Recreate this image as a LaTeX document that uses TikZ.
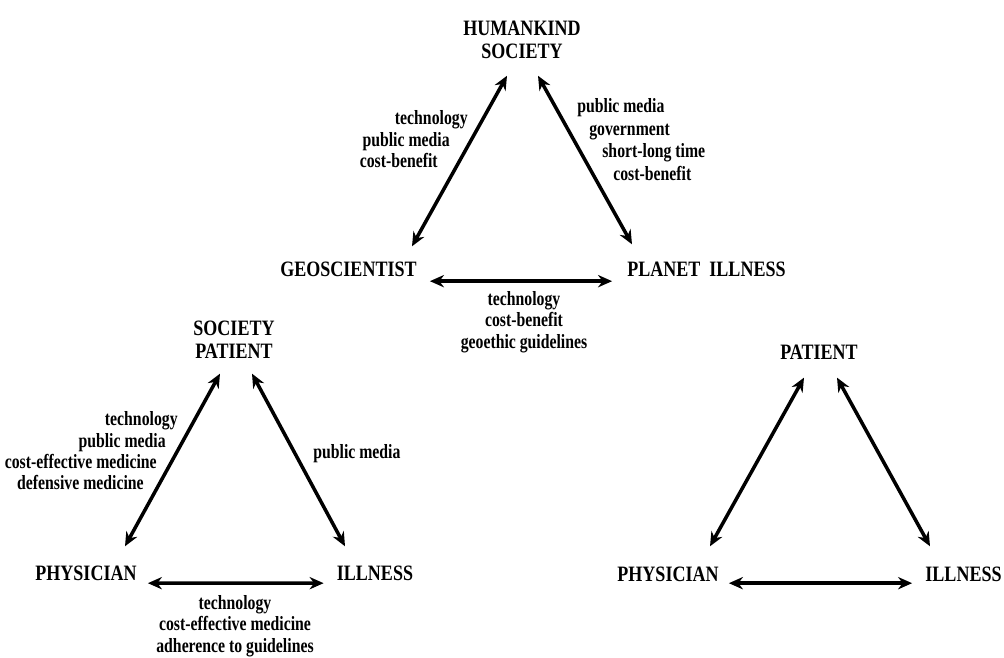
\documentclass[tikz,border=0pt]{standalone}
\usepackage{fontspec}
\setmainfont{Liberation Serif}
\newfontfamily\actorfam[FakeStretch=0.82]{Liberation Serif}
\newfontfamily\lblfam[FakeStretch=0.78]{Liberation Serif}
\usepackage{tikz}
\usetikzlibrary{arrows.meta}

\newcommand{\actorfont}{\actorfam\fontsize{12.5}{13}\selectfont\bfseries}
\newcommand{\lblfont}{\lblfam\fontsize{11.5}{12.4}\selectfont\bfseries}

\begin{document}
\begin{tikzpicture}[
    x=0.02cm, y=-0.02cm,
    actor/.style={font=\actorfont, inner sep=0pt, align=center},
    lbl/.style={font=\lblfont, inner sep=0pt, align=center},
    arr/.style={{Stealth[length=8pt,width=7pt]}-{Stealth[length=8pt,width=7pt]}, line width=2pt},
]
\useasboundingbox (0,0) rectangle (1004,657);
% Top triangle
\node[actor] (hk)  at (522,40)      {HUMANKIND\\SOCIETY};
\node[actor] (geo) at (348.5,269.5) {GEOSCIENTIST};
\node[actor] (pl)  at (706.5,269.5) {PLANET\ \ ILLNESS};
\draw[arr] ([shift={(-15,16.6)}]hk.south) -- ([shift={(63.5,-15.5)}]geo.north);
\draw[arr] ([shift={(16,16.6)}]hk.south) -- ([shift={(-74.5,-17.5)}]pl.north);
\draw[arr] ([shift={(13,4.5)}]geo.base east) -- ([shift={(-15,4.5)}]pl.base west);
\node[lbl, anchor=base east] (tla) at (468,124) {technology};
\node[lbl, anchor=base east] (tlb) at (450,146) {public media};
\node[lbl, anchor=base east] (tlc) at (438,167) {cost-benefit};
\node[lbl, anchor=base west] (tra) at (577,112) {public media};
\node[lbl, anchor=base west] (trb) at (589,135) {government};
\node[lbl, anchor=base west] (trc) at (602,157) {short-long time};
\node[lbl, anchor=base west] (trd) at (613,180) {cost-benefit};
\node[lbl] (tb) at (524,322) {technology\\cost-benefit\\geoethic guidelines};
% Left triangle
\node[actor] (sp)  at (234,340)   {SOCIETY\\PATIENT};
\node[actor] (ph1) at (86,573.5)  {PHYSICIAN};
\node[actor] (il1) at (375,573)   {ILLNESS};
\draw[arr] ([shift={(-14,14.6)}]sp.south) -- ([shift={(39,-19.5)}]ph1.north);
\draw[arr] ([shift={(18,14.6)}]sp.south) -- ([shift={(-30,-19)}]il1.north);
\draw[arr] ([shift={(11,2.5)}]ph1.base east) -- ([shift={(-13,3)}]il1.base west);
\node[lbl, anchor=base east] (la) at (178,425) {technology};
\node[lbl, anchor=base east] (lb) at (166,447) {public media};
\node[lbl, anchor=base east] (lc) at (157,468) {cost-effective medicine};
\node[lbl, anchor=base east] (ld) at (144,489) {defensive medicine};
\node[lbl, anchor=base west] (lr) at (313,458) {public media};
\node[lbl] (lbot) at (235,626) {technology\\cost-effective medicine\\adherence to guidelines};
% Right triangle
\node[actor] (pt)  at (819,352)   {PATIENT};
\node[actor] (ph2) at (668,574)   {PHYSICIAN};
\node[actor] (il2) at (963.5,574) {ILLNESS};
\draw[arr] ([shift={(-15,18)}]pt.south) -- ([shift={(42,-20)}]ph2.north);
\draw[arr] ([shift={(18,18)}]pt.south) -- ([shift={(-33.5,-20)}]il2.north);
\draw[arr] ([shift={(10,2)}]ph2.base east) -- ([shift={(-13,2)}]il2.base west);
\end{tikzpicture}
\end{document}
